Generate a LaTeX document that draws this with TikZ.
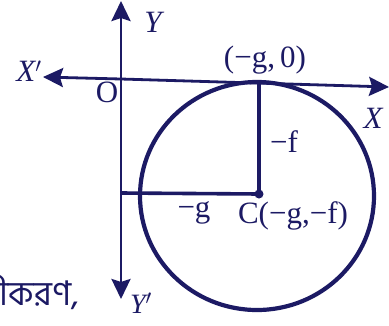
\documentclass[tikz,border=0pt]{standalone}
\usepackage{fontspec}
\setmainfont{Liberation Serif}
\newfontfamily\bnfont[Script=Bengali]{Hind Siliguri}
\usetikzlibrary{arrows.meta}
\definecolor{ink}{RGB}{28,26,100}
\tikzset{
  axis/.style={draw=ink, line width=2.8pt, -{Stealth[length=20pt,width=19pt,inset=3pt]}},
  thick line/.style={draw=ink, line width=3.6pt},
  lbl/.style={text=ink, font=\fontsize{31}{34}\selectfont, inner sep=0pt},
}
\begin{document}
\begin{tikzpicture}[x=1pt,y=-1pt]
\clip (0,0) rectangle (389,325);
\useasboundingbox (0,0) rectangle (389,325);
\fill[white] (0,0) rectangle (389,325);
% origin and axis ends
\coordinate (ytop) at (121,1);
\coordinate (ybot) at (121,299);
\coordinate (ybase) at (121,195);
\coordinate (xleft) at (43,77);
\coordinate (xright) at (389,87);
\coordinate (xstart) at (121,79);
% circle
\coordinate (C) at (259,194);
\coordinate (T) at (259,82);
\draw[ink, line width=4.2pt] (257,196) ellipse [x radius=117, y radius=114];
% axes
\draw[axis] (ybase) -- (ytop);
\draw[axis] (ybase) -- (ybot);
\draw[axis] (xstart) -- (xleft);
\draw[axis] (xstart) -- (xright);
% radius lines
\coordinate (H) at (121,193);
\draw[thick line] (H) -- (C);
\draw[thick line] (T) -- (C);
\fill[ink] (C) circle (4.5);
% labels
\node[lbl, font=\fontsize{31}{34}\selectfont\itshape] (lY) at (153,22) {Y};
\node[lbl, font=\fontsize{31}{34}\selectfont\itshape] (lXp) at (29,71) {X$'$};
\node[lbl] (lO) at (107,92) {O};
\node[lbl] (lg0) at (265,60) {(−g,\,0)};
\node[lbl, font=\fontsize{31}{34}\selectfont\itshape] (lX) at (373,118) {X};
\node[lbl] (lf) at (284,142) {−f};
\node[lbl] (lg) at (194,213) {−g};
\node[lbl] (lC) at (293,216) {C(−g,−f)};
\node[lbl, font=\fontsize{28}{30}\selectfont\itshape] (lYp) at (141,303) {Y$'$};
\node[text=ink, inner sep=0pt, anchor=base east, font=\bnfont\fontsize{34}{36}\selectfont] (lbn) at (79,305) {সমীকরণ,};
\end{tikzpicture}
\end{document}
